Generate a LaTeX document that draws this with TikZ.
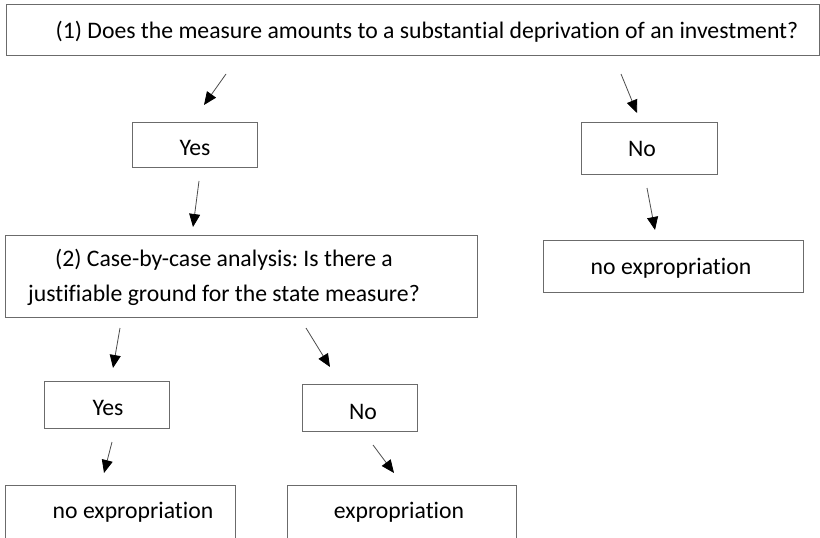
\documentclass[tikz,border=0pt]{standalone}
\usepackage{fontspec}
\setmainfont{Carlito}[Ligatures=NoCommon]
\usetikzlibrary{arrows.meta}
\begin{document}
\frenchspacing
\begin{tikzpicture}[x=1bp,y=-1bp,
  box/.style={draw=black!58, line width=1bp, fill=none, inner sep=0pt, outer sep=0pt},
  txt/.style={anchor=base, inner sep=0pt, font=\fontsize{23.8}{28}\selectfont, text=black},
  arr/.style={draw=black!70, line width=0.8bp, -{Triangle[length=13bp,width=11bp,color=black,fill=black]}}]
\path[use as bounding box] (0,0) rectangle (820,538);
\fill[white] (0,0) rectangle (820,538);
\clip (0,0) rectangle (820,538);
% boxes
\node[box, minimum width=812bp, minimum height=51bp] (q1) at (413,30.5) {};
\node[box, minimum width=125bp, minimum height=45bp] (y1) at (194.5,145.5) {};
\node[box, minimum width=136bp, minimum height=52bp] (n1) at (649,149) {};
\node[box, minimum width=471bp, minimum height=81bp] (q2) at (241.5,276.5) {};
\node[box, minimum width=260bp, minimum height=51bp] (r1) at (673,266.5) {};
\node[box, minimum width=124bp, minimum height=47bp] (y2) at (107,404.5) {};
\node[box, minimum width=115bp, minimum height=47bp] (n2) at (359.5,407.5) {};
\node[box, minimum width=229bp, minimum height=85bp] (b1) at (120.5,527.5) {};
\node[box, minimum width=229bp, minimum height=85bp] (b2) at (401.5,527.5) {};
% texts
\node[txt] (t1) at (427,39) {(1) Does the measure amounts to a substantial deprivation of an investment?};
\node[txt] (ty1) at (195,156) {Yes};
\node[txt] (tn1) at (642,157) {No};
\node[txt] (t2a) at (224,267) {(2) Case-by-case analysis: Is there a};
\node[txt] (t2b) at (224,302) {justifiable ground for the state measure?};
\node[txt] (tr1) at (671,275) {no expropriation};
\node[txt] (ty2) at (108,415) {Yes};
\node[txt] (tn2) at (363,419) {No};
\node[txt] (tb1) at (133,518) {no expropriation};
\node[txt] (tb2) at (399,518) {expropriation};
% arrow end points
\coordinate (a1s) at (226,74);  \coordinate (a1e) at (204,105);
\coordinate (a2s) at (621,74);  \coordinate (a2e) at (637,113);
\coordinate (a3s) at (199,181); \coordinate (a3e) at (193,227);
\coordinate (a4s) at (647,188); \coordinate (a4e) at (655,230);
\coordinate (a5s) at (120,328); \coordinate (a5e) at (113,368);
\coordinate (a6s) at (306,328); \coordinate (a6e) at (330,367);
\coordinate (a7s) at (112,442); \coordinate (a7e) at (104,473);
\coordinate (a8s) at (373,445); \coordinate (a8e) at (394,473);
\draw[arr] (a1s) -- (a1e);
\draw[arr] (a2s) -- (a2e);
\draw[arr] (a3s) -- (a3e);
\draw[arr] (a4s) -- (a4e);
\draw[arr] (a5s) -- (a5e);
\draw[arr] (a6s) -- (a6e);
\draw[arr] (a7s) -- (a7e);
\draw[arr] (a8s) -- (a8e);
\end{tikzpicture}
\end{document}
